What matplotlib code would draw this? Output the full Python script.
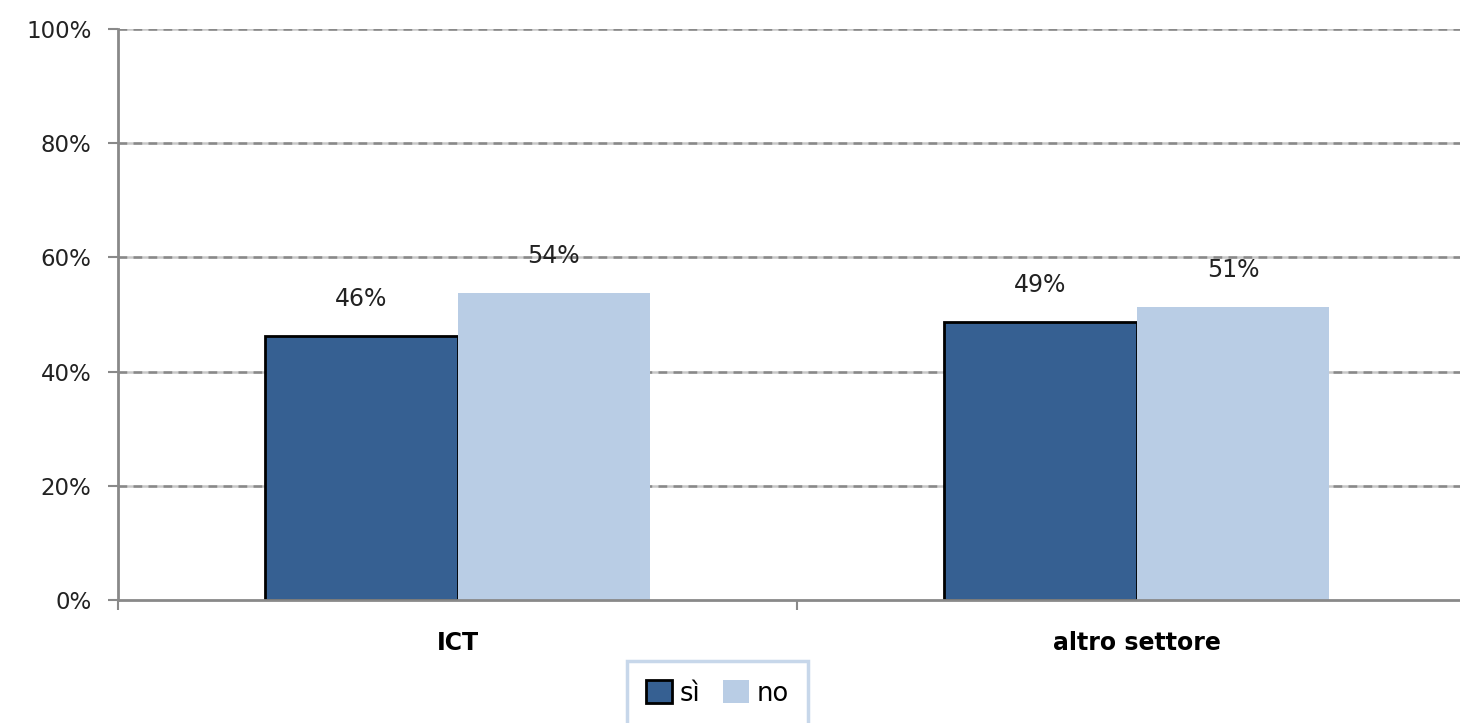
import matplotlib
matplotlib.use("Agg")
import matplotlib.pyplot as plt
import numpy as np
from matplotlib.ticker import FuncFormatter, FixedLocator

# ── Data ─────────────────────────────────────────────────────────────────────
categories = ["ICT", "altro settore"]
series_names = ["sì", "no"]
si_values = [46.2, 48.7]
no_values = [53.8, 51.3]
y_ticks = [0, 20, 40, 60, 80, 100]

C_SI = "#366092"
C_NO = "#b9cde5"
C_AXIS = "#898989"

W, H = 1460, 723
fig = plt.figure(figsize=(W / 100, H / 100), dpi=100)
# axes runs a bit past the right edge, as in the original
ax = fig.add_axes([118 / W, 1 - 600 / H, (1476 - 118) / W, (600 - 29) / H])

x = np.arange(len(categories))
bw = 0.284
b1 = ax.bar(x - bw / 2, si_values, bw, color=C_SI, edgecolor="black",
            linewidth=2, label=series_names[0], zorder=3)
b2 = ax.bar(x + bw / 2, no_values, bw, color=C_NO, edgecolor="none",
            linewidth=0, label=series_names[1], zorder=3)

for bars in (b1, b2):
    for r in bars:
        v = r.get_height()
        ax.annotate(f"{round(v):.0f}%", (r.get_x() + r.get_width() / 2, v),
                    xytext=(0, 18), textcoords="offset points",
                    ha="center", va="bottom", fontsize=17, color="#222222")

ax.set_xlim(-0.5, 1.5)
ax.set_ylim(0, 100)
ax.set_yticks(y_ticks)
ax.yaxis.set_major_formatter(FuncFormatter(lambda v, p: f"{v:.0f}%"))
# excel-like two tone dashed gridlines
for t in y_ticks[1:]:
    ax.axhline(t, color="#c8c8c8", linewidth=1.8, zorder=0)
    ax.axhline(t, color=C_AXIS, linewidth=1.8, linestyle=(0, (3.5, 2.5)),
               zorder=0.5)

ax.set_xticks(x)
ax.set_xticklabels(categories, fontsize=17, fontweight="bold")
ax.xaxis.set_minor_locator(FixedLocator([-0.5, 0.5, 1.5]))
ax.tick_params(axis="x", which="major", length=0, pad=22)
ax.tick_params(axis="x", which="minor", length=7, width=1.5, color=C_AXIS)
ax.tick_params(axis="y", length=7, width=1.5, color=C_AXIS, pad=12,
               labelsize=16.5, labelcolor="#222222")

for s in ("top", "right"):
    ax.spines[s].set_visible(False)
for s in ("left", "bottom"):
    ax.spines[s].set_color(C_AXIS)
    ax.spines[s].set_linewidth(2)
ax.spines["bottom"].set_zorder(4)

leg = fig.legend(handles=[b1, b2], loc="upper left",
                 bbox_to_anchor=(627 / W, 1 - 661 / H), ncol=2,
                 fontsize=18.5, frameon=True, fancybox=False,
                 handlelength=1.0, handleheight=1.0, handletextpad=0.3,
                 columnspacing=0.9, borderpad=0.75, borderaxespad=0)
leg.get_frame().set_edgecolor(C_NO)
leg.get_frame().set_linewidth(2.5)

fig.savefig("out.png", dpi=100)
